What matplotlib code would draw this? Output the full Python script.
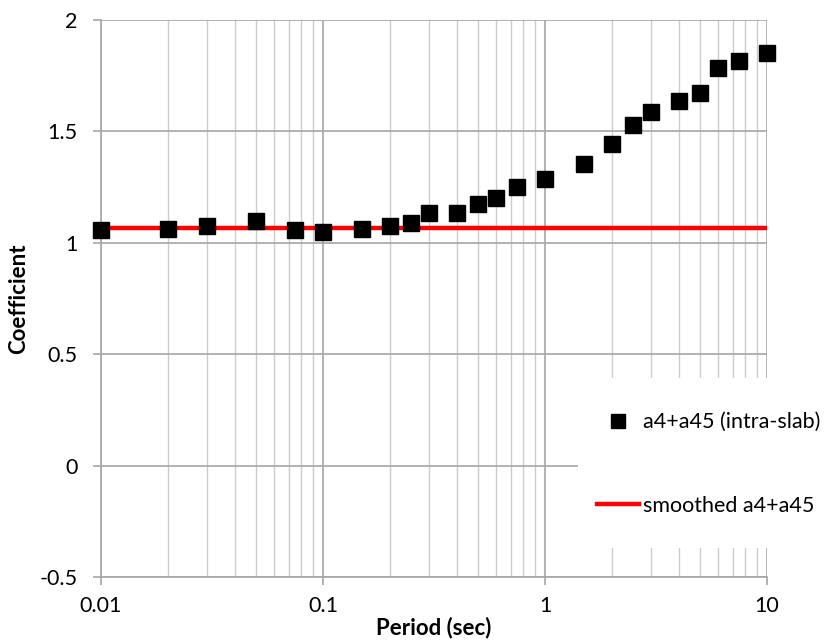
import matplotlib.pyplot as plt
from matplotlib.patches import Rectangle
from matplotlib.ticker import LogLocator, FixedLocator, NullFormatter

plt.rcParams['font.family'] = ['Lato', 'DejaVu Sans']

# spectral periods (sec) and regression coefficient
periods = [0.01, 0.02, 0.03, 0.05, 0.075, 0.1, 0.15, 0.2, 0.25, 0.3, 0.4, 0.5,
           0.6, 0.75, 1.0, 1.5, 2.0, 2.5, 3.0, 4.0, 5.0, 6.0, 7.5, 10.0]
coef = [1.057, 1.063, 1.075, 1.096, 1.057, 1.048, 1.063, 1.075, 1.090, 1.132,
        1.132, 1.174, 1.201, 1.249, 1.285, 1.353, 1.443, 1.527, 1.588, 1.638,
        1.671, 1.783, 1.817, 1.853]
smooth_x = [0.01, 10.0]
smooth_y = [1.067, 1.067]

y_ticks = [-0.5, 0, 0.5, 1, 1.5, 2]
y_labels = ['-0.5', '0', '0.5', '1', '1.5', '2']
x_ticks = [0.01, 0.1, 1, 10]
x_labels = ['0.01', '0.1', '1', '10']

fig = plt.figure(figsize=(8.26, 6.4), dpi=100)
ax = fig.add_axes([101 / 826, 1 - 577 / 640, 666 / 826, 557 / 640])

ax.plot(smooth_x, smooth_y, color='#ff0000', lw=3.2, zorder=3,
        label='smoothed a4+a45')
ax.plot(periods, coef, ls='none', marker='s', ms=11, color='black',
        zorder=4, clip_on=False, label='a4+a45 (intra-slab)')

ax.set_xscale('log')
ax.set_xlim(0.01, 10)
ax.set_ylim(-0.5, 2)
ax.xaxis.set_major_locator(FixedLocator(x_ticks))
ax.set_xticklabels(x_labels)
ax.xaxis.set_minor_locator(LogLocator(base=10, subs=range(2, 10)))
ax.xaxis.set_minor_formatter(NullFormatter())
ax.set_yticks(y_ticks)
ax.set_yticklabels(y_labels)

ax.set_axisbelow(True)
ax.grid(which='major', color='#a6a6a6', lw=1.2)
ax.grid(which='minor', axis='x', color='#cccccc', lw=1.0)
ax.tick_params(which='major', direction='out', length=6, width=1.2,
               color='#a6a6a6', labelsize=15.5, pad=8)
ax.tick_params(axis='y', pad=11)
ax.tick_params(which='minor', length=0)
for side in ['top', 'right']:
    ax.spines[side].set_visible(False)
for side in ['left', 'bottom']:
    ax.spines[side].set_color('#a6a6a6')
    ax.spines[side].set_linewidth(1.2)

ax.set_xlabel('Period (sec)', fontsize=16, fontweight='bold', labelpad=0)
ax.set_ylabel('Coefficient', fontsize=16, fontweight='bold', labelpad=7)

# white legend area sitting over the grid
ax.add_patch(Rectangle((578 / 826, 1 - 548 / 640), 248 / 826, 170 / 640,
                       transform=fig.transFigure, facecolor='white',
                       edgecolor='none', zorder=1, clip_on=False))
handles, labels = ax.get_legend_handles_labels()
fig.legend(handles[::-1], labels[::-1], loc='center left',
           bbox_to_anchor=(586 / 826, 1 - 464 / 640), frameon=False,
           fontsize=15.5, handlelength=1.95, handletextpad=0.2,
           labelspacing=2.95, borderpad=0, markerscale=0.95)

fig.savefig('out.png', dpi=100)
